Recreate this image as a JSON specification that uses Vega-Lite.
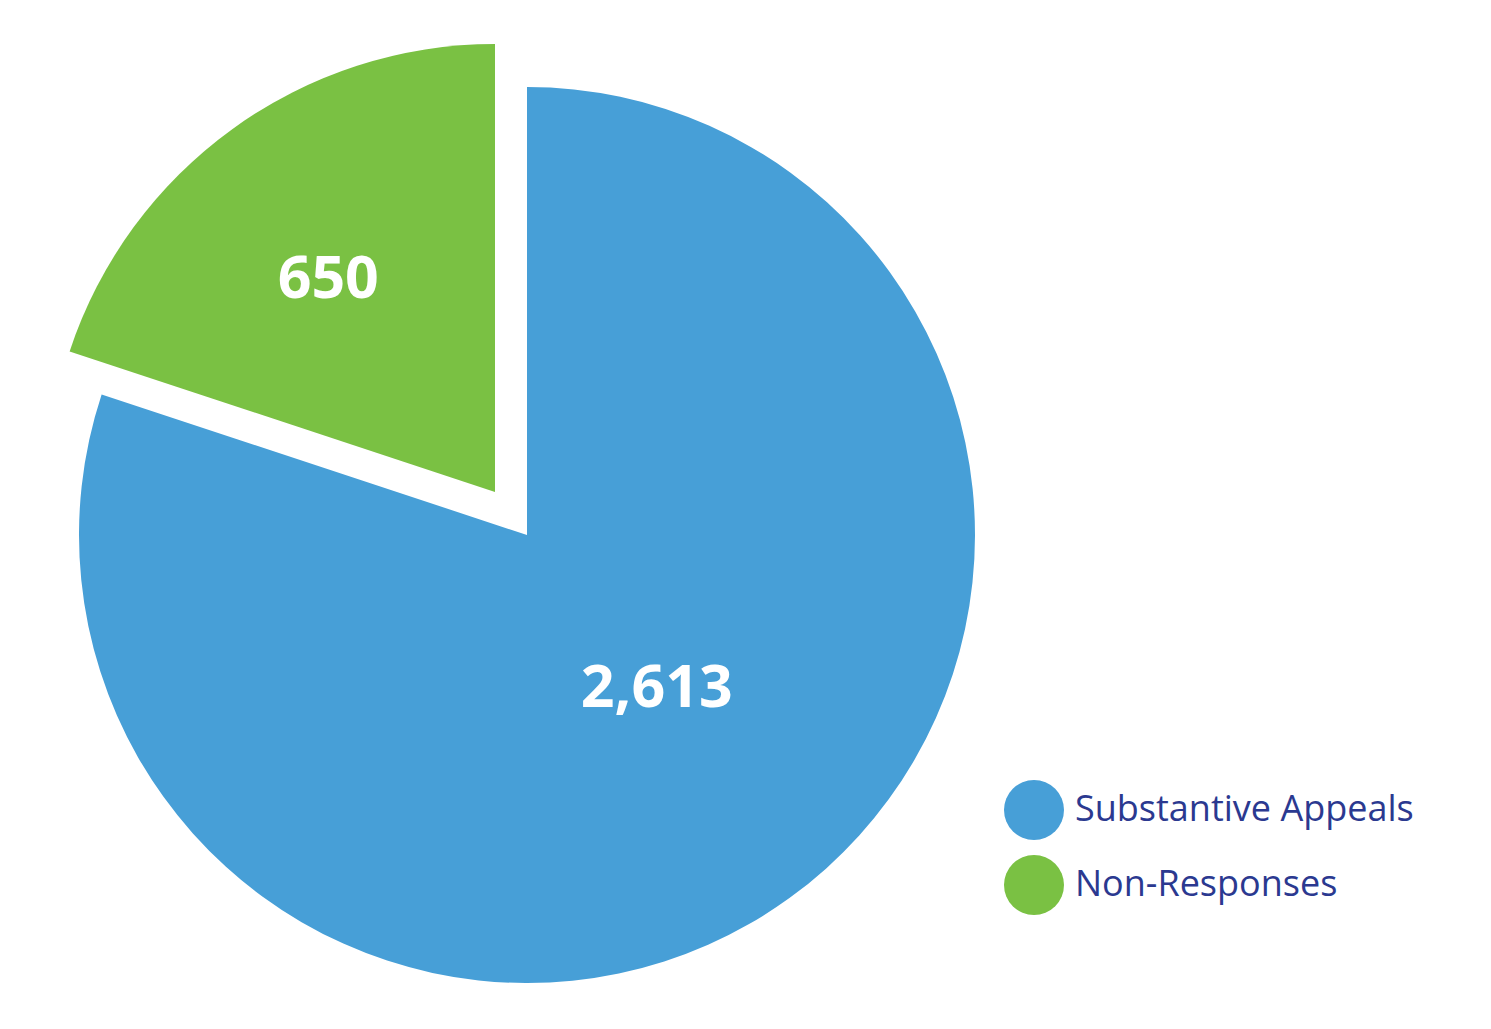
{
  "$schema": "https://vega.github.io/schema/vega-lite/v6.json",
  "width": 1491,
  "height": 1029,
  "autosize": {"type": "none"},
  "padding": 0,
  "background": "white",
  "config": {"view": {"stroke": null}},
  "data": {
    "values": [
      {"category": "Substantive Appeals", "count": 2613, "label": "2,613"},
      {"category": "Non-Responses", "count": 650, "label": "650"}
    ]
  },
  "encoding": {
    "theta": {"field": "count", "type": "quantitative", "stack": true},
    "order": {"field": "category", "sort": "descending"}
  },
  "layer": [
    {
      "mark": {"type": "arc", "radius": 448, "xOffset": -218.5, "yOffset": 20.5},
      "encoding": {
        "color": {
          "field": "category",
          "type": "nominal",
          "sort": ["Substantive Appeals", "Non-Responses"],
          "scale": {
            "domain": ["Substantive Appeals", "Non-Responses"],
            "range": ["#479fd7", "#7ac143"]
          },
          "legend": {
            "title": null,
            "orient": "none",
            "legendX": 1004,
            "legendY": 780,
            "symbolType": "circle",
            "symbolSize": 3600,
            "symbolStrokeWidth": 0,
            "symbolOpacity": 1,
            "rowPadding": 15,
            "labelOffset": 11,
            "labelFont": "Open Sans",
            "labelFontSize": 36,
            "labelColor": "#2b3990",
            "labelLimit": 500
          }
        },
        "opacity": {
          "condition": {"test": "datum.category === 'Non-Responses'", "value": 0},
          "value": 1
        }
      }
    },
    {
      "mark": {"type": "arc", "radius": 448, "xOffset": -250.5, "yOffset": -22.5},
      "encoding": {
        "color": {"field": "category", "type": "nominal"},
        "opacity": {
          "condition": {"test": "datum.category === 'Substantive Appeals'", "value": 0},
          "value": 1
        }
      }
    },
    {
      "mark": {
        "type": "text",
        "radius": 201,
        "xOffset": -218.5,
        "yOffset": 20.5,
        "dx": 12,
        "dy": -9,
        "font": "Open Sans",
        "fontWeight": "bold",
        "fontSize": 59,
        "fill": "white",
        "align": "center",
        "baseline": "middle"
      },
      "encoding": {
        "text": {"field": "label"},
        "opacity": {
          "condition": {"test": "datum.category === 'Non-Responses'", "value": 0},
          "value": 1
        }
      }
    },
    {
      "mark": {
        "type": "text",
        "radius": 271,
        "xOffset": -250.5,
        "yOffset": -22.5,
        "dx": -8,
        "dy": 8,
        "font": "Open Sans",
        "fontWeight": "bold",
        "fontSize": 59,
        "fill": "white",
        "align": "center",
        "baseline": "middle"
      },
      "encoding": {
        "text": {"field": "label"},
        "opacity": {
          "condition": {"test": "datum.category === 'Substantive Appeals'", "value": 0},
          "value": 1
        }
      }
    }
  ]
}
